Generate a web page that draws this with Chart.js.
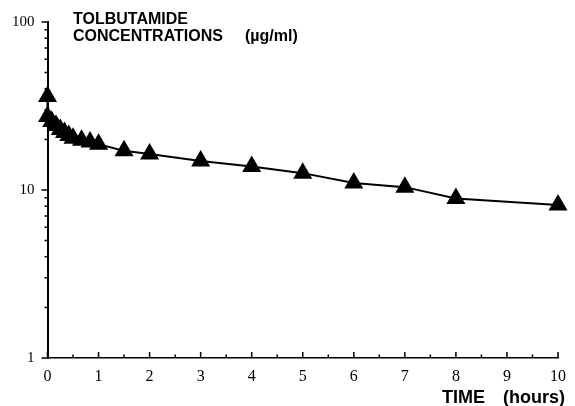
<!DOCTYPE html>
<html>
<head>
<meta charset="utf-8">
<script src="https://cdn.jsdelivr.net/npm/chart.js@4"></script>
<style>
  html, body { margin: 0; padding: 0; background: #fff; }
  #wrap { width: 575px; height: 406px; }
</style>
</head>
<body>
<div id="wrap"><canvas id="tolbChart" width="575" height="406"></canvas></div>
<script>
// Sampling times (hours) and measured concentrations (ug/ml)
const times = [0, 0, 0.083, 0.167, 0.25, 0.333, 0.417, 0.5, 0.667, 0.833, 1, 1.5, 2, 3, 4, 5, 6, 7, 8, 10];
const concentrations = [36, 27.4, 25.6, 24.2, 22.9, 22, 21.1, 20.3, 19.8, 19.3, 18.7, 17.1, 16.4, 14.9, 13.8, 12.6, 11.0, 10.4, 8.9, 8.15];

// Axis ticks
const xTicks = [0, 1, 2, 3, 4, 5, 6, 7, 8, 9, 10];
const xMinorTicks = [0.5, 1.5, 2.5, 3.5, 4.5, 5.5, 6.5, 7.5, 8.5, 9.5];
const yTicks = [1, 10, 100];
const yMinorTicks = [2, 3, 4, 5, 6, 7, 8, 9, 20, 30, 40, 50, 60, 70, 80, 90];

const yTitleLines = ['TOLBUTAMIDE', 'CONCENTRATIONS', '(\u00b5g/ml)'];
const xTitle = ['TIME', '(hours)'];

// Tick marks and titles drawn on top of the chart
const axisDecor = {
    id: 'axisDecor',
    afterDraw(chart) {
        const ctx = chart.ctx;
        const xs = chart.scales.x;
        const ys = chart.scales.y;
        const area = chart.chartArea;
        ctx.save();
        ctx.strokeStyle = '#000';
        ctx.lineWidth = 1.5;
        ctx.beginPath();
        // y ticks point left
        for (const v of yTicks) {
            const p = ys.getPixelForValue(v);
            ctx.moveTo(area.left - 6, p);
            ctx.lineTo(area.left, p);
        }
        for (const v of yMinorTicks) {
            const p = ys.getPixelForValue(v);
            ctx.moveTo(area.left - 3, p);
            ctx.lineTo(area.left, p);
        }
        // x ticks point up
        for (const v of xTicks) {
            const p = xs.getPixelForValue(v);
            ctx.moveTo(p, area.bottom);
            ctx.lineTo(p, area.bottom - 6);
        }
        for (const v of xMinorTicks) {
            const p = xs.getPixelForValue(v);
            ctx.moveTo(p, area.bottom);
            ctx.lineTo(p, area.bottom - 3.5);
        }
        ctx.stroke();

        // titles
        ctx.fillStyle = '#000';
        ctx.textBaseline = 'middle';
        ctx.textAlign = 'left';
        ctx.font = 'bold 16px "Liberation Sans", Arial, sans-serif';
        ctx.fillText(yTitleLines[0], 73, 20);
        ctx.fillText(yTitleLines[1], 73, 37);
        ctx.fillText(yTitleLines[2], 245, 37);
        ctx.font = 'bold 18px "Liberation Sans", Arial, sans-serif';
        ctx.fillText(xTitle[0], 442, 398);
        ctx.fillText(xTitle[1], 503, 398);
        ctx.restore();
    }
};

const ctx = document.getElementById('tolbChart');
const tolbChart = new Chart(ctx, {
    type: 'line',
    data: {
        datasets: [{
            data: times.map((t, i) => ({ x: t, y: concentrations[i] })),
            borderColor: '#000',
            borderWidth: 2,
            backgroundColor: '#000',
            pointStyle: 'triangle',
            pointRadius: 11,
            pointBorderWidth: 0,
            pointBackgroundColor: '#000',
            tension: 0,
            clip: false
        }]
    },
    options: {
        responsive: false,
        animation: false,
        layout: {
            padding: { top: 21, right: 17, left: 0, bottom: 0 }
        },
        plugins: {
            legend: { display: false },
            tooltip: { enabled: false }
        },
        scales: {
            x: {
                type: 'linear',
                min: 0,
                max: 10,
                afterFit(scale) { scale.height = 48; },
                afterBuildTicks(scale) { scale.ticks = xTicks.map(v => ({ value: v })); },
                grid: { display: false, drawTicks: false },
                border: { display: true, color: '#000', width: 1.5 },
                ticks: {
                    padding: 9,
                    color: '#000',
                    autoSkip: false,
                    maxRotation: 0,
                    font: { family: '"Liberation Serif", "Times New Roman", serif', size: 16 }
                }
            },
            y: {
                type: 'logarithmic',
                min: 1,
                max: 100,
                afterFit(scale) { scale.width = 47.5; },
                afterBuildTicks(scale) { scale.ticks = yTicks.map(v => ({ value: v })); },
                grid: { display: false, drawTicks: false },
                border: { display: true, color: '#000', width: 2 },
                ticks: {
                    padding: 13,
                    color: '#000',
                    autoSkip: false,
                    callback: v => String(v),
                    font: { family: '"Liberation Serif", "Times New Roman", serif', size: 15 }
                }
            }
        }
    },
    plugins: [axisDecor]
});
</script>
</body>
</html>
